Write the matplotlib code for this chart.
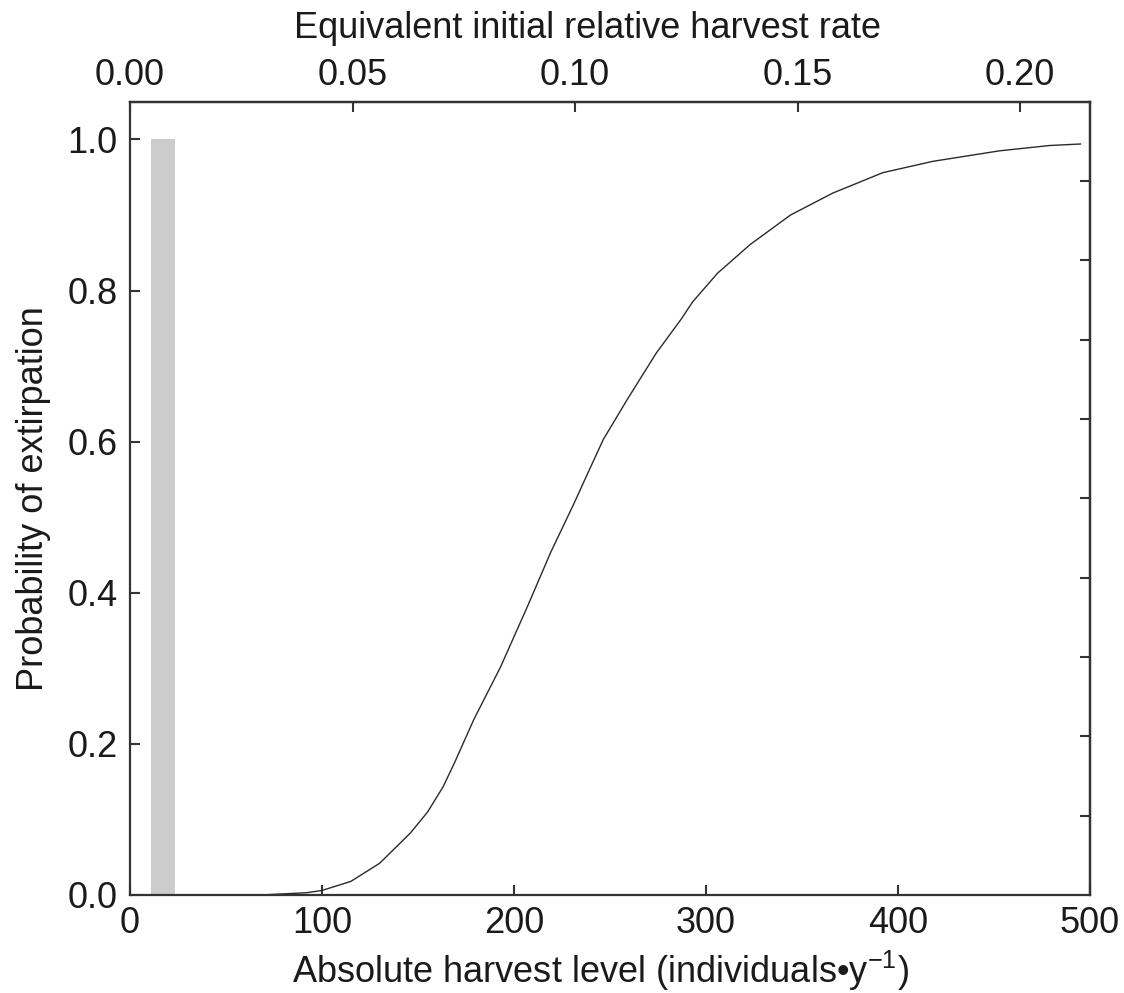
import numpy as np
import matplotlib
matplotlib.use("Agg")
from matplotlib import pyplot as plt

# curve: harvest level vs probability of extirpation
harvest = [68, 92, 100, 115, 130, 146, 155, 163, 169, 179, 193, 207, 219,
           231, 238, 246.5, 259, 274, 287, 293, 306, 323, 344, 366, 392, 418,
           453, 479, 495]
prob = [0.0, 0.003, 0.006, 0.018, 0.042, 0.082, 0.110, 0.143, 0.175, 0.232,
        0.302, 0.382, 0.453, 0.517, 0.556, 0.603, 0.656, 0.717, 0.762, 0.785,
        0.823, 0.861, 0.90, 0.929, 0.956, 0.971, 0.985, 0.992, 0.994]

# grey bar near the origin
bar_x = [17.1]
bar_w = [12.6]
bar_h = [1.0]

bottom_ticks = [0, 100, 200, 300, 400, 500]
left_ticks = [0.0, 0.2, 0.4, 0.6, 0.8, 1.0]
top_ticks = [0.00, 0.05, 0.10, 0.15, 0.20]
rate_per_level = 0.2157 / 500

plt.rcParams['font.family'] = ['Liberation Sans', 'DejaVu Sans']
plt.rcParams['mathtext.fontset'] = 'custom'
plt.rcParams['mathtext.rm'] = 'Liberation Sans'

fs = 26
ink = '#1a1a1a'

fig = plt.figure(figsize=(11.24, 9.93), dpi=100)
ax = fig.add_axes([0.1157, 0.0987, 0.8541, 0.7989])

ax.bar(bar_x, bar_h, width=bar_w, color='#cccccc', zorder=1)
ax.plot(harvest, prob, color='#2a2a2a', lw=1.0, zorder=2)

ax.set_xlim(0, 500)
ax.set_ylim(0, 1.05)
ax.set_xticks(bottom_ticks)
ax.set_yticks(left_ticks)
ax.set_yticklabels([f"{t:.1f}" for t in left_ticks])

for s in ax.spines.values():
    s.set_linewidth(1.6)
    s.set_color('#333333')
ax.tick_params(direction='in', length=7.5, width=1.5, colors='#333333',
               labelcolor=ink, labelsize=fs)
ax.tick_params(axis='x', pad=8)
ax.tick_params(axis='y', pad=9)

ax.set_xlabel('Absolute harvest level (individuals\u2022y$^{-1}$)',
              fontsize=fs, color=ink, labelpad=5.5)
ax.xaxis.label.set_x(0.49)
ax.set_ylabel('Probability of extirpation', fontsize=fs, color=ink, labelpad=12)

top = ax.secondary_xaxis('top', functions=(lambda x: x * rate_per_level,
                                           lambda x: x / rate_per_level))
top.set_xticks(top_ticks)
top.set_xticklabels([f"{t:.2f}" for t in top_ticks])
top.tick_params(direction='in', length=7.5, width=1.5, colors='#333333',
                labelcolor=ink, labelsize=fs, pad=6)
top.spines['top'].set_linewidth(1.6)
top.set_xlabel('Equivalent initial relative harvest rate', fontsize=fs,
               color=ink, labelpad=15)
top.xaxis.label.set_x(0.477)

right = ax.secondary_yaxis('right', functions=(lambda y: y / 1.05,
                                               lambda y: y * 1.05))
right.set_yticks(np.arange(1, 10) / 10)
right.set_yticklabels([])
right.tick_params(direction='in', length=7.5, width=1.5, colors='#333333')
right.spines['right'].set_linewidth(1.6)

fig.savefig('out.png', dpi=100)
